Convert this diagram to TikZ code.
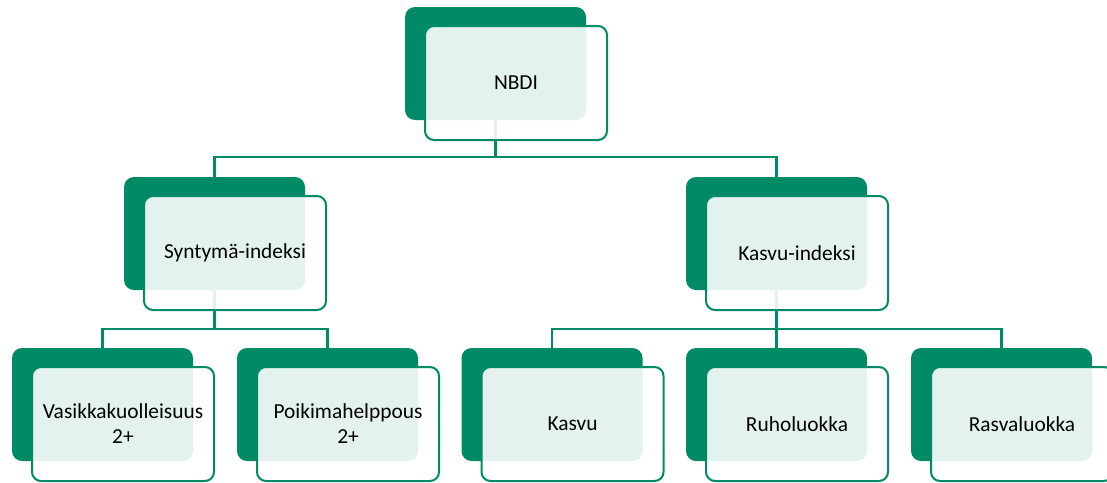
\documentclass[tikz,border=0pt]{standalone}
\usepackage{fontspec}
\setmainfont{Carlito}
\definecolor{sgreen}{RGB}{0,138,101}
\begin{document}
\begin{tikzpicture}[x=1pt,y=-1pt,
  back/.style={fill=sgreen, draw=none, rounded corners=10pt, minimum width=181pt, minimum height=113pt, inner sep=0pt, outer sep=0pt},
  front/.style={draw=sgreen, line width=2pt, fill=white, fill opacity=0.89, text opacity=1, draw opacity=1, rounded corners=9pt, minimum width=182pt, minimum height=114pt, align=center, text width=176pt, inner sep=0pt, font=\fontsize{21.4}{25}\selectfont},
  conn/.style={draw=sgreen, line width=2.2pt}]
\useasboundingbox (0,0) rectangle (1107,482);
\clip (0,0) rectangle (1107,482);
% back boxes
\node[back] (nbdi-b)  at (495.5,63.5) {};
\node[back] (synt-b)  at (214.5,233.5) {};
\node[back] (kind-b)  at (776.5,233.5) {};
\node[back] (vasi-b)  at (102.5,404.5) {};
\node[back] (poik-b)  at (327.5,404.5) {};
\node[back] (kasv-b)  at (552.0,404.5) {};
\node[back] (ruho-b)  at (776.5,404.5) {};
\node[back] (rasv-b)  at (1001.5,404.5) {};
% connectors
\draw[conn] (nbdi-b.south) -- (nbdi-b.south |- 0,157) -| (synt-b.north);
\draw[conn] (nbdi-b.south |- 0,157) -| (kind-b.north);
\draw[conn] (synt-b.south) -- (synt-b.south |- 0,329) -| (vasi-b.north);
\draw[conn] (synt-b.south |- 0,329) -| (poik-b.north);
\draw[conn] (kind-b.south) -- (kind-b.south |- 0,329) -| (kasv-b.north);
\draw[conn] (kind-b.south |- 0,329) -| (rasv-b.north);
\draw[conn] (kind-b.south |- 0,329) -- (ruho-b.north);
% front boxes
\node[front] (nbdi) at (516,83) {NBDI};
\node[front] (synt) at (235,253) {Syntymä-indeksi};
\node[front] (kind) at (797,253) {Kasvu-indeksi};
\node[front] (vasi) at (123,424) {Vasikkakuolleisuus\\2+};
\node[front] (poik) at (348,424) {Poikimahelppous\\2+};
\node[front] (kasv) at (572.5,424) {Kasvu};
\node[front] (ruho) at (797,424) {Ruholuokka};
\node[front] (rasv) at (1022,424) {Rasvaluokka};
\end{tikzpicture}
\end{document}
